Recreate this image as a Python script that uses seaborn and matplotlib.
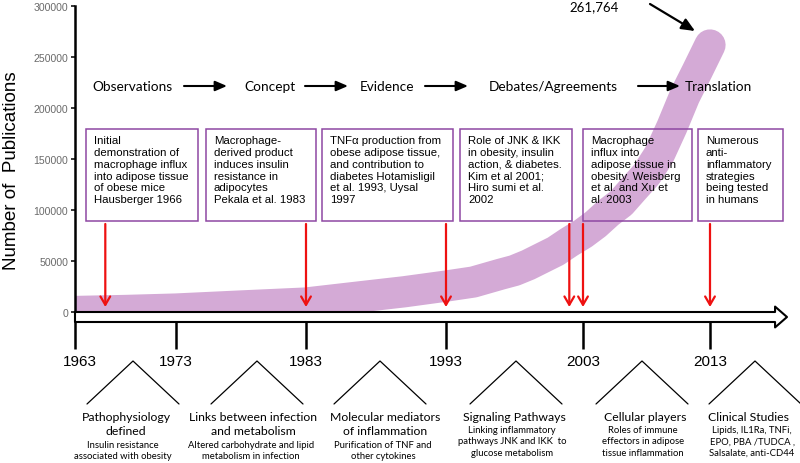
import numpy as np
import pandas as pd
import matplotlib
matplotlib.use("Agg")
import matplotlib.pyplot as plt
import seaborn as sns
from matplotlib.patches import FancyArrowPatch, Rectangle, ArrowStyle
from matplotlib.ticker import FuncFormatter
from matplotlib.transforms import ScaledTranslation

# ---------------- data ----------------
years = [1963, 1968, 1973, 1978, 1983, 1987, 1990, 1993, 1995, 1997, 1998, 1999,
         2000, 2001, 2002, 2003, 2004, 2005, 2006, 2007, 2008, 2009, 2010, 2011,
         2012, 2013]
publications = [500, 1500, 2900, 5900, 8800, 15100, 19800, 25400, 29400, 37100,
                40700, 46200, 52900, 59600, 68600, 76800, 86100, 97400, 106900,
                121000, 134900, 154200, 181400, 211500, 236300, 261764]
peak_label = "261,764"

tick_years = [1963, 1973, 1983, 1993, 2003, 2013]
y_ticks = [0, 50000, 100000, 150000, 200000, 250000, 300000]

event_years = [1966, 1983, 1993, 2002, 2003, 2013]
event_texts = [
    "Initial\ndemonstration of\nmacrophage influx\ninto adipose tissue\nof obese mice\nHausberger 1966",
    "Macrophage-\nderived product\ninduces insulin\nresistance in\nadipocytes\nPekala et al. 1983",
    "TNFα production from\nobese adipose tissue,\nand contribution to\ndiabetes Hotamisligil\net al. 1993, Uysal\n1997",
    "Role of JNK & IKK\nin obesity, insulin\naction, & diabetes.\nKim et al 2001;\nHiro sumi et al.\n2002",
    "Macrophage\ninflux into\nadipose tissue in\nobesity. Weisberg\net al. and Xu et\nal. 2003",
    "Numerous\nanti-\ninflammatory\nstrategies\nbeing tested\nin humans",
]
phases = ["Observations", "Concept", "Evidence", "Debates/Agreements", "Translation"]
era_titles = ["Pathophysiology\ndefined", "Links between infection\nand metabolism",
              "Molecular mediators\nof inflammation", "Signaling Pathways",
              "Cellular players", "Clinical Studies"]
era_details = ["Insulin resistance\nassociated with obesity",
               "Altered carbohydrate and lipid\nmetabolism in infection",
               "Purification of TNF and\nother cytokines",
               "Linking inflammatory\npathways JNK and IKK  to\nglucose metabolism",
               "Roles of immune\neffectors in adipose\ntissue inflammation",
               "Lipids, IL1Ra, TNFi,\nEPO, PBA /TUDCA ,\nSalsalate, anti-CD44"]

# ---------------- layout (pixels) ----------------
tick_px = [75, 176, 306, 446, 583, 710]          # uneven spacing of the timeline
box_spans = [(86, 198), (206, 316), (322, 453), (460, 572), (583, 692), (698, 783)]
box_top, box_bottom = 130, 222
phase_x = [132, 270, 387, 553, 718]
phase_arrows = [(184, 227), (305, 348), (425, 468), (638, 680)]
era_apex = [133, 257, 380, 516, 642, 755]
era_title_x = [126, 253, 385, 514, 645, 748]
era_detail_x = [123, 251, 383, 512, 643, 752]

band_color = "#D4AAD6"
box_color = "#8E48A3"
red = "#EE1111"
LATO = ["Lato", "DejaVu Sans"]

sns.set_theme(style="white")
plt.rcParams["font.family"] = ["Liberation Sans", "DejaVu Sans"]

fig = plt.figure(figsize=(8, 4.64), dpi=100)
ax = fig.add_axes([75 / 800, (464 - 313) / 464, 715 / 800, 306 / 464])

ky = np.array(tick_years, float)
kp = np.array(tick_px, float)
s0 = (kp[1] - kp[0]) / (ky[1] - ky[0])
s1 = (kp[-1] - kp[-2]) / (ky[-1] - ky[-2])


def fwd(v):
    v = np.asarray(v, float)
    out = np.interp(v, ky, kp)
    out = np.where(v < ky[0], kp[0] + (v - ky[0]) * s0, out)
    out = np.where(v > ky[-1], kp[-1] + (v - ky[-1]) * s1, out)
    return out


def inv(p):
    p = np.asarray(p, float)
    out = np.interp(p, kp, ky)
    out = np.where(p < kp[0], ky[0] + (p - kp[0]) / s0, out)
    out = np.where(p > kp[-1], ky[-1] + (p - kp[-1]) / s1, out)
    return out


ax.set_xscale("function", functions=(fwd, inv))

df = pd.DataFrame({"year": years, "publications": publications})
sns.lineplot(data=df, x="year", y="publications", ax=ax, color=band_color,
             lw=22.5, zorder=2)
band = ax.lines[0]
band.set_solid_capstyle("round")
band.set_solid_joinstyle("round")

ax.set_xlim(1963, float(inv(790)))
ax.set_ylim(0, 300000)
ax.set_yticks(y_ticks)
ax.yaxis.set_major_formatter(FuncFormatter(lambda v, p: f"{int(v)}"))
ax.set_xticks(tick_years)
ax.set_xticklabels([str(y) for y in tick_years])
ax.xaxis.set_minor_locator(matplotlib.ticker.NullLocator())

ax.tick_params(axis="y", left=True, length=3, width=1.1, color="black",
               labelsize=7.6, labelcolor="#6a6a6a", pad=2)
ax.tick_params(axis="x", bottom=True, length=26.6, width=1.8, color="black",
               labelsize=11, labelcolor="black", pad=4)
first = ax.get_xticklabels()[0]
first.set_transform(first.get_transform() + ScaledTranslation(5 / 100, 0, fig.dpi_scale_trans))
for s in ["top", "right", "bottom"]:
    ax.spines[s].set_visible(False)
ax.spines["left"].set_linewidth(1.8)
ax.spines["left"].set_color("black")
ax.set_xlabel("")
ax.set_ylabel("Number of  Publications", fontsize=13.5, va="center", color="black")
ax.yaxis.set_label_coords(-63 / 715, (313 - 170.5) / 306)

# red event arrows
for yr in event_years:
    ax.annotate("", xy=(yr, 4900), xytext=(yr, 86300),
                arrowprops=dict(arrowstyle="->,head_length=0.6,head_width=0.35",
                                color=red, lw=1.6, shrinkA=0, shrinkB=0,
                                mutation_scale=10),
                annotation_clip=False, zorder=4)

# hollow timeline arrow
tl = FancyArrowPatch(posA=(0, -5 / 306), posB=(712 / 715, -5 / 306),
                     transform=ax.transAxes,
                     arrowstyle=ArrowStyle.Simple(head_length=8.6, head_width=15,
                                                  tail_width=7.2),
                     mutation_scale=1, fc="white", ec="black", lw=1.5,
                     clip_on=False, zorder=5, shrinkA=0, shrinkB=0)
ax.add_patch(tl)

# ---------------- overlay for annotations ----------------
ov = fig.add_axes([0, 0, 1, 1], zorder=3)
ov.set_xlim(0, 800)
ov.set_ylim(464, 0)
ov.axis("off")
ov.patch.set_visible(False)

for (x0, x1), txt in zip(box_spans, event_texts):
    ov.add_patch(Rectangle((x0, box_top), x1 - x0, box_bottom - box_top,
                           fill=False, ec=box_color, lw=1.1))
    ov.text(x0 + 8, box_top + 6, txt, ha="left", va="top", fontsize=8.2,
            linespacing=1.23, color="black", family=["Liberation Sans", "DejaVu Sans"])

for x, name in zip(phase_x, phases):
    ov.text(x, 87, name, ha="center", va="center", fontsize=9.8,
            family=LATO, color="black")
for xa, xb in phase_arrows:
    ov.annotate("", xy=(xb, 87), xytext=(xa, 87),
                arrowprops=dict(arrowstyle="-|>,head_length=0.7,head_width=0.3",
                                color="black", lw=1.5, shrinkA=0, shrinkB=0,
                                mutation_scale=10))

ov.text(594, 7, peak_label, ha="center", va="center", fontsize=9.5,
        family=LATO, color="black")
ov.annotate("", xy=(695, 32), xytext=(650, 5),
            arrowprops=dict(arrowstyle="-|>,head_length=0.8,head_width=0.35",
                            color="black", lw=1.6, shrinkA=0, shrinkB=0,
                            mutation_scale=10), annotation_clip=False)

for xa, xt, xd, title, detail in zip(era_apex, era_title_x, era_detail_x,
                                     era_titles, era_details):
    ov.plot([xa - 46, xa, xa + 46], [405, 362, 405], color="black", lw=0.9,
            clip_on=False)
    n = title.count("\n") + 1
    ov.text(xt, 412, title, ha="center", va="top", fontsize=8.8,
            linespacing=1.38, family=LATO, color="black")
    ov.text(xd, 412 + 15 * n - 1, detail, ha="center", va="top", fontsize=6.8,
            linespacing=1.34, family=LATO, color="black")

fig.savefig("out.png", dpi=100)
